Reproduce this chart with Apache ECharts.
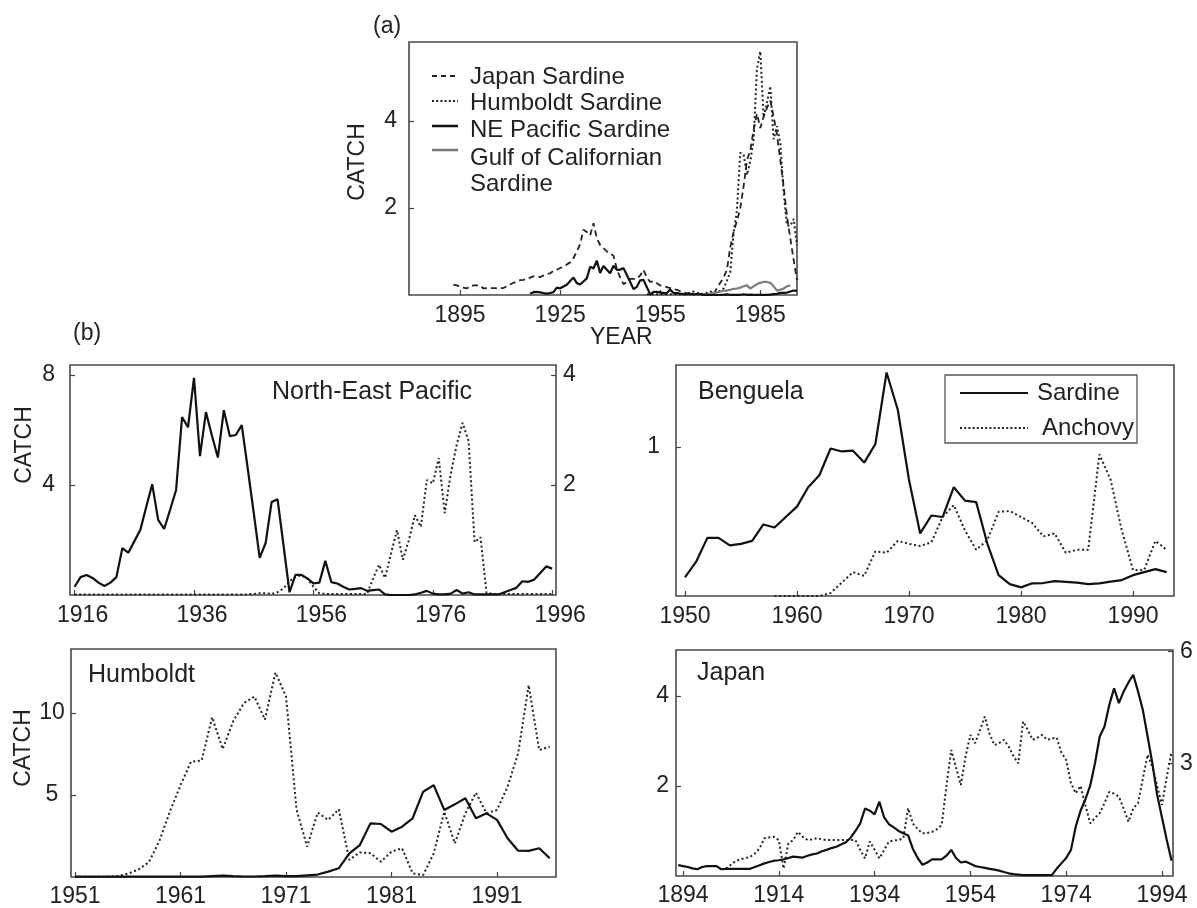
<!DOCTYPE html>
<html><head><meta charset="utf-8">
<script src="https://cdn.jsdelivr.net/npm/echarts@6/dist/echarts.min.js"></script>
<style>html,body{margin:0;padding:0;background:#fff}#c{width:1197px;height:908px}</style>
</head><body><div id="c"></div>
<script>
const FONT = '"Liberation Sans", Arial, Helvetica, sans-serif';
const TXT = '#222';

// ---------------- DATA ----------------
// North-East Pacific (panel b, top-left); sardine on left axis, anchovy on right axis
const neStart = 1916;
const neSardine = [0.3,0.65,0.73,0.62,0.45,0.33,0.45,0.65,1.7,1.54,
  1.95,2.36,3.2,4.03,2.73,2.4,3.1,3.82,6.47,6.1,
  7.9,5.05,6.65,5.8,5.0,6.72,5.78,5.82,6.18,4.6,
  3.0,1.35,1.89,3.38,3.48,1.8,0.1,0.73,0.73,0.6,
  0.42,0.45,1.24,0.47,0.42,0.3,0.2,0.22,0.25,0.15,
  0.18,0.2,0.02,0,0,0,0,0.02,0.08,0.15,
  0.05,0.02,0.02,0.05,0.18,0.05,0.1,0.02,0.02,0.02,
  0.02,0.02,0.1,0.18,0.26,0.5,0.48,0.56,0.8,1.04,
  0.96];
const neAnchovy = [0.01,0.01,0.01,0.01,0.01,0.01,0.01,0.01,0.01,0.01,
  0.01,0.01,0.01,0.01,0.01,0.01,0.01,0.01,0.01,0.01,
  0.01,0.01,0.01,0.01,0.01,0.01,0.01,0.01,0.01,0.01,
  0.02,0.03,0.03,0.02,0.05,0.12,0.25,0.33,0.36,0.3,
  0.15,0.03,0.02,0.02,0.02,0.02,0.02,0.02,0.02,0.02,
  0.3,0.55,0.31,0.75,1.18,0.64,1.0,1.45,1.24,2.09,
  2.03,2.49,1.49,2.2,2.73,3.13,2.8,0.96,1.05,0.04,
  0.02,0.02,0.02,0.02,0.02,0.02,0.02,0.02,0.02,0.02,
  0.02];

// Benguela
const bgSardineStart = 1950;
const bgSardine = [0.125,0.23,0.39,0.39,0.34,0.35,0.37,0.48,0.46,0.53,
  0.6,0.73,0.81,0.99,0.97,0.975,0.895,1.02,1.5,1.25,
  0.78,0.42,0.54,0.53,0.73,0.64,0.63,0.35,0.14,0.08,
  0.058,0.085,0.087,0.1,0.095,0.09,0.08,0.085,0.096,0.107,
  0.14,0.16,0.18,0.16];
const bgAnchovyStart = 1958;
const bgAnchovy = [0,0,0,0,0,0.02,0.09,0.16,0.135,0.3,
  0.29,0.37,0.35,0.335,0.36,0.53,0.61,0.44,0.31,0.375,
  0.565,0.57,0.53,0.49,0.4,0.42,0.29,0.31,0.31,0.95,
  0.78,0.44,0.175,0.175,0.37,0.31];

// Humboldt
const huStart = 1951;
const huSardine = [0.02,0.02,0.02,0.02,0.02,0.02,0.02,0.02,0.02,0.02,
  0.02,0.02,0.02,0.05,0.08,0.05,0.03,0.03,0.05,0.08,
  0.05,0.05,0.1,0.15,0.33,0.53,1.44,1.95,3.27,3.23,
  2.76,3.07,3.58,5.2,5.6,4.09,4.43,4.8,3.58,3.88,
  3.48,2.36,1.6,1.59,1.75,1.14];
const huAnchovy = [0,0,0,0,0.05,0.2,0.45,0.9,2.2,4.0,
  5.6,7.03,7.1,9.74,7.8,9.5,10.6,11.0,9.6,12.46,
  11.0,4.1,1.85,3.92,3.48,4.13,1.04,1.5,1.45,0.93,
  1.55,1.75,0.22,0.12,1.44,3.98,2.05,3.88,5.14,3.88,
  4.09,5.5,7.54,11.7,7.74,7.95];

// Japan; sardine on left axis, anchovy on right axis
const jpSardineStart = 1893;
const jpSardine = [0.24,0.22,0.2,0.17,0.15,0.2,0.22,0.22,0.22,0.15,
  0.16,0.16,0.16,0.16,0.16,0.16,0.2,0.24,0.28,0.31,
  0.34,0.35,0.37,0.4,0.43,0.42,0.41,0.45,0.48,0.5,
  0.55,0.58,0.62,0.65,0.7,0.75,0.85,1.0,1.17,1.5,
  1.45,1.37,1.65,1.3,1.15,1.08,1.0,0.95,0.9,0.6,
  0.4,0.25,0.3,0.37,0.37,0.37,0.45,0.58,0.4,0.3,
  0.32,0.27,0.22,0.2,0.18,0.16,0.14,0.12,0.09,0.06,
  0.04,0.03,0.02,0.02,0.02,0.02,0.02,0.02,0.02,0.16,
  0.28,0.4,0.58,1.1,1.45,1.7,2.0,2.5,3.1,3.32,
  3.8,4.17,3.84,4.1,4.3,4.47,4.1,3.69,3.1,2.5,
  1.8,1.3,0.8,0.34];
const jpAnchovyStart = 1903;
const jpAnchovy = [0.2,0.3,0.4,0.45,0.48,0.51,0.6,0.74,1.01,1.03,
  1.05,0.96,0.2,0.87,0.96,1.18,1.05,0.96,0.98,1.01,
  0.98,0.96,0.96,0.96,0.96,0.96,0.96,0.96,0.7,0.47,
  0.92,0.7,0.47,0.7,0.92,0.95,0.96,1.01,1.81,1.4,
  1.25,1.14,1.15,1.18,1.25,1.36,2.4,3.37,2.9,2.43,
  3.2,3.77,3.55,3.9,4.26,3.8,3.5,3.55,3.64,3.46,
  3.2,3.01,4.13,3.9,3.64,3.7,3.77,3.64,3.67,3.7,
  3.3,3.1,2.48,2.21,2.41,1.9,1.41,1.55,1.68,1.95,
  2.25,2.2,2.12,1.8,1.45,1.81,1.94,2.6,3.24,2.92,
  2.4,1.9,2.65,3.32];

// Panel (a): NE Pacific sardine (other units), Gulf of California sardine
const aNeStart = 1916;
const aNeSardine = [0.03,0.065,0.073,0.062,0.045,0.033,0.045,0.065,0.17,0.154,
  0.195,0.236,0.32,0.403,0.273,0.24,0.31,0.382,0.647,0.61,
  0.79,0.505,0.665,0.58,0.5,0.672,0.578,0.582,0.618,0.46,
  0.3,0.135,0.189,0.338,0.348,0.18,0.01,0.073,0.073,0.06,
  0.042,0.045,0.124,0.047,0.042,0.03,0.02,0.022,0.025,0.015,
  0.018,0.02,0.002,0,0,0,0,0.002,0.008,0.015,
  0.005,0.002,0.002,0.005,0.018,0.005,0.01,0.002,0.002,0.002,
  0.002,0.002,0.01,0.018,0.026,0.05,0.048,0.056,0.08,0.104,
  0.096];
const gulfStart = 1969;
const gulfSardine = [0.02,0.03,0.05,0.06,0.08,0.1,0.1,0.12,0.14,0.15,
  0.17,0.2,0.22,0.15,0.2,0.25,0.28,0.3,0.3,0.28,
  0.2,0.1,0.12,0.15,0.2,0.22];

// Tick labels
const aTicks = [1895,1925,1955,1985];
const neTicks = [1916,1936,1956,1976,1996];
const bgTicks = [1950,1960,1970,1980,1990];
const huTicks = [1951,1961,1971,1981,1991];
const jpTicks = [1894,1914,1934,1954,1974,1994];

// ---------------- CHART ----------------
const pairs = (start, arr) => arr.map((v, i) => [start + i, v]);
const plain = v => String(Math.round(v));

function grid(left, top, width, height) {
  return {left, top, width, height, show: true, borderColor: '#4a4a4a', borderWidth: 1.6,
          backgroundColor: 'transparent', containLabel: false};
}
function xAx(gi, min, max, vals, labelExtra) {
  return {type: 'value', gridIndex: gi, min, max,
    axisLine: {show: false}, splitLine: {show: false},
    axisTick: {show: true, inside: true, length: 5, customValues: vals, lineStyle: {color: '#444', width: 1.2}},
    axisLabel: Object.assign({customValues: vals, formatter: plain, margin: 9, fontSize: 23, fontFamily: FONT, color: TXT}, labelExtra || {})};
}
function yAx(gi, max, vals, pos, labelExtra) {
  return {type: 'value', gridIndex: gi, min: 0, max, position: pos || 'left',
    axisLine: {show: false}, splitLine: {show: false},
    axisTick: {show: true, inside: true, length: 5, customValues: vals, lineStyle: {color: '#444', width: 1.2}},
    axisLabel: Object.assign({customValues: vals, formatter: plain, margin: 12, fontSize: 23, fontFamily: FONT, color: TXT}, labelExtra || {})};
}
function line(xi, yi, data, style) {
  return {type: 'line', xAxisIndex: xi, yAxisIndex: yi, data, symbol: 'none', showSymbol: false,
    silent: true, lineStyle: Object.assign({color: '#111', width: 2.2}, style || {}), z: 3};
}
const SOLID = {color: '#111', width: 2.2};
const DOTTED = {color: '#222', width: 2, type: [2, 2.6]};
const DASHED = {color: '#222', width: 1.8, type: [6, 4]};
const GREY = {color: '#7d7d7d', width: 2.2};

function text(str, x, y, opts) {
  return Object.assign({type: 'text', z: 100, x, y,
    style: Object.assign({text: str, font: (opts && opts.size || 24) + 'px ' + FONT, fill: TXT,
      textAlign: 'left', textVerticalAlign: 'middle'}, (opts && opts.style) || {})}, (opts && opts.el) || {});
}
function seg(x1, x2, y, style) {
  return {type: 'line', z: 100, shape: {x1, y1: y, x2, y2: y},
    style: Object.assign({stroke: '#111', lineWidth: 2.2}, style)};
}

const option = {
  animation: false,
  backgroundColor: '#fff',
  grid: [
    grid(409, 42, 388, 253),   // (a)
    grid(70, 365, 486, 230),   // NE Pacific
    grid(676, 365, 498, 231),  // Benguela
    grid(71, 649, 485, 228),   // Humboldt
    grid(676, 650, 497, 226)   // Japan
  ],
  xAxis: [
    xAx(0, 1879.7, 1996, aTicks),
    xAx(1, 1915.23, 1996.64, neTicks, {padding: [0, 0, 0, 16]}),
    xAx(2, 1949.2, 1993.66, bgTicks),
    xAx(3, 1950.62, 1996.59, huTicks, {margin: 8}),
    xAx(4, 1892.54, 1996.3, jpTicks, {margin: 8})
  ],
  yAxis: [
    yAx(0, 5.816, [2, 4], 'left', {margin: 12}),
    yAx(1, 8.364, [4, 8], 'left', {margin: 15}),
    yAx(1, 4.182, [2, 4], 'right', {margin: 7}),
    yAx(2, 1.55, [1], 'left', {margin: 16}),
    yAx(3, 13.9, [5, 10], 'left', {margin: 19, align: 'center'}),
    yAx(4, 5.02, [2, 4], 'left', {margin: 7}),
    yAx(4, 6.04, [3, 6], 'right', {margin: 7})
  ],
  series: [
    // (a)
    line(0, 0, pairs(jpSardineStart, jpSardine), DASHED),
    line(0, 0, pairs(huStart, huSardine), DOTTED),
    line(0, 0, pairs(gulfStart, gulfSardine), GREY),
    line(0, 0, pairs(aNeStart, aNeSardine), SOLID),
    // NE Pacific
    line(1, 2, pairs(neStart, neAnchovy), DOTTED),
    line(1, 1, pairs(neStart, neSardine), SOLID),
    // Benguela
    line(2, 3, pairs(bgAnchovyStart, bgAnchovy), DOTTED),
    line(2, 3, pairs(bgSardineStart, bgSardine), SOLID),
    // Humboldt
    line(3, 4, pairs(huStart, huAnchovy), DOTTED),
    line(3, 4, pairs(huStart, huSardine), SOLID),
    // Japan
    line(4, 6, pairs(jpAnchovyStart, jpAnchovy), DOTTED),
    line(4, 5, pairs(jpSardineStart, jpSardine), SOLID)
  ],
  graphic: [
    text('(a)', 373, 27, {size: 23}),
    text('(b)', 73, 334, {size: 23}),
    text('YEAR', 590, 338, {size: 23}),
    text('CATCH', 358, 162, {size: 23, style: {textAlign: 'center'}, el: {rotation: Math.PI / 2}}),
    text('CATCH', 25, 445, {size: 23, style: {textAlign: 'center'}, el: {rotation: Math.PI / 2}}),
    text('CATCH', 24, 748, {size: 23, style: {textAlign: 'center'}, el: {rotation: Math.PI / 2}}),
    // panel titles
    text('North-East Pacific', 272, 392, {size: 25}),
    text('Benguela', 698, 392, {size: 25}),
    text('Humboldt', 88, 675, {size: 25}),
    text('Japan', 697, 673, {size: 25}),
    // legend (a)
    seg(432, 458, 76, {lineWidth: 1.8, lineDash: [5, 4], stroke: '#222'}),
    text('Japan Sardine', 470, 77, {size: 24}),
    seg(432, 458, 101, {lineWidth: 2, lineDash: [2, 2.2], stroke: '#222'}),
    text('Humboldt Sardine', 470, 103, {size: 24}),
    seg(432, 458, 126, {lineWidth: 2.5}),
    text('NE Pacific Sardine', 470, 130, {size: 24}),
    seg(432, 458, 150, {lineWidth: 2.5, stroke: '#777'}),
    text('Gulf of Californian', 470, 158, {size: 24}),
    text('Sardine', 470, 184, {size: 24}),
    // legend Benguela
    {type: 'rect', z: 99, shape: {x: 945, y: 375, width: 192, height: 68},
     style: {fill: '#fff', stroke: '#555', lineWidth: 1.3}},
    seg(960, 1028, 393, {lineWidth: 2.2}),
    text('Sardine', 1037, 393, {size: 24}),
    seg(960, 1028, 428, {lineWidth: 2, lineDash: [2, 2.2], stroke: '#222'}),
    text('Anchovy', 1042, 428, {size: 24})
  ]
};

const chart = echarts.init(document.getElementById('c'), null, {renderer: 'canvas'});
chart.setOption(option);
</script>
</body></html>
